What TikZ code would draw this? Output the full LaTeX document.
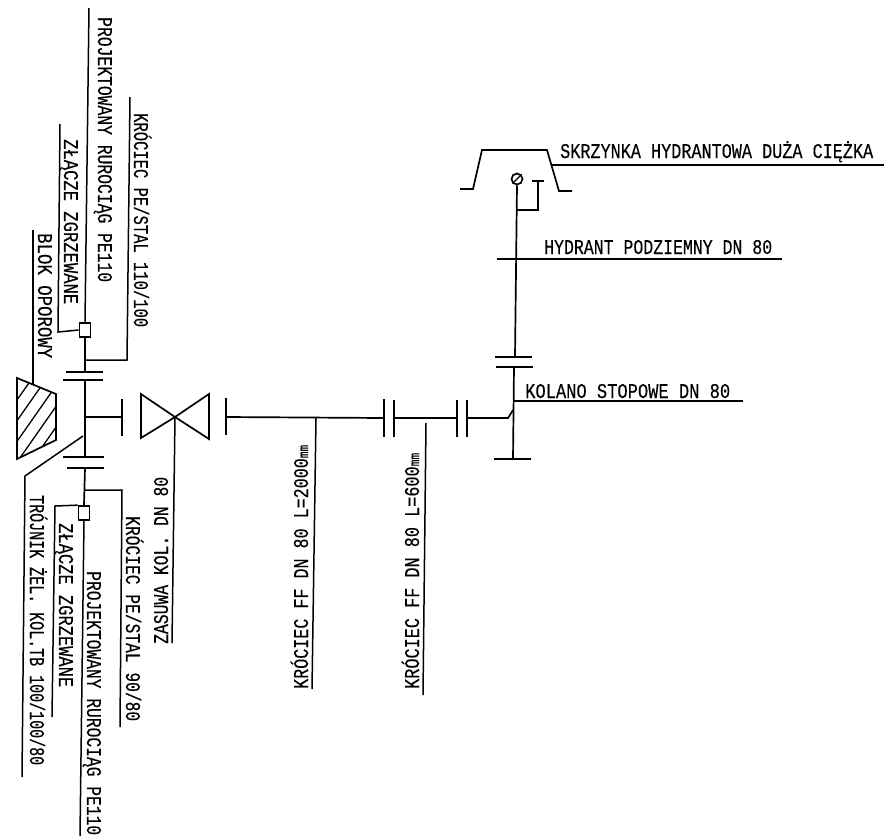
\documentclass[tikz,border=0pt]{standalone}
\usepackage{fontspec}
\setmainfont{Liberation Mono}[FakeBold=0.3]
\newcommand{\lbl}[2]{\resizebox{#1pt}{\height}{#2}}
\tikzset{
  pipe/.style={line width=1.7pt},
  lead/.style={line width=1.5pt},
  txt/.style={inner sep=0pt,font=\fontsize{21}{21}\selectfont},
  txtdown/.style={txt,rotate=-90,anchor=base west},
  txtup/.style={txt,rotate=90,anchor=base west},
  txtright/.style={txt,anchor=base west},
  fitting/.style={draw,pipe,fill=white,inner sep=0pt,minimum width=11pt,minimum height=14pt}
}
\begin{document}
\begin{tikzpicture}[x=1pt,y=-1pt]
\useasboundingbox (0,0) rectangle (884,836);
% fittings
\node[fitting] (joinA) at (85,330) {};
\node[fitting] (joinB) at (84,513) {};
\node[draw,pipe,circle,inner sep=0pt,minimum size=11pt] (head) at (517,179) {};
\draw[line width=1.2pt] (head.south west) -- (head.north east);
% points on the pipes
\coordinate (topA) at (89,8);
\coordinate (botB) at (80,836);
\coordinate (teeA) at (85,360);
\coordinate (flA) at (85,372);
\coordinate (flB) at (85,380);
\coordinate (teeC) at (85,417);
\coordinate (flC) at (85,457);
\coordinate (flD) at (85,468);
\coordinate (teeE) at (85,490);
\coordinate (barL) at (122,417);
\coordinate (mid) at (175,417);
\coordinate (barR) at (226,417);
\coordinate (fitA) at (384,418);
\coordinate (fitB) at (394,418);
\coordinate (fitC) at (457,418);
\coordinate (fitD) at (467,418);
\coordinate (elbowA) at (508,418);
\coordinate (elbowB) at (513,410);
\coordinate (upA) at (514,367);
\coordinate (upB) at (515,357);
\coordinate (foot) at (513,459);
\coordinate (teeH) at (516,210);
% main pipe
\draw[lead] (topA) -- (joinA.north);
\draw[pipe] (joinA.south) -- (flA);
\draw[pipe] (flB) -- (flC);
\draw[pipe] (flD) -- (joinB.north);
\draw[lead] (joinB.south) -- (botB);
\draw[pipe] (teeC) -- (barL);
\draw[pipe] (barR) -- (fitA);
\draw[pipe] (fitB) -- (fitC);
\draw[pipe] (fitD) -- (elbowA) -- (elbowB);
\draw[pipe] (upA) -- (foot);
\draw[pipe] (upB) -- (head.south);
\draw[pipe] (teeH) -- (538,210) -- (538,181);
% flanges
\foreach \y/\a/\b in {372/66/103,380/63/103,457/63/104,468/67/104,357/495/532,367/496/533,459/494/531,181/532/544}
\draw[pipe] (\a,\y) -- (\b,\y);
\foreach \x/\a/\b in {122/399/436,226/398/435,384/399/437,394/400/437,457/400/437,467/400/437}
\draw[pipe] (\x,\a) -- (\x,\b);
% valve
\draw[pipe] (mid) -- (141,394) -- (141,438) -- (mid) -- (209,394) -- (209,439) -- cycle;
% block
\begin{scope}
\clip (17,378) -- (56,394) -- (56,440) -- (17,459) -- cycle;
\foreach \x in {0,1,...,4}
\draw[line width=1.3pt] (\x*14.5-32,470) -- (\x*14.5+38,370);
\end{scope}
\draw[pipe] (17,378) -- (56,394) -- (56,440) -- (17,459) -- cycle;
% hydrant box
\draw[pipe] (460,189) -- (473,189) -- (482,150) -- (547,150) -- (559,191) -- (572,191);
% leaders
\draw[lead] (33,230) -- (33,385);
\draw[lead] (60,124) -- (58,332) -- (joinA.west);
\draw[lead] (130,97) -- (127,360) -- (teeA);
\draw[lead] (83,436) -- (25,476) -- (22,777);
\draw[lead] (joinB.north west) -- (55,506) -- (52,717);
\draw[lead] (teeE) -- (122,490) -- (120,727);
\draw[lead] (mid) -- (172,643);
\draw[lead] (316,418) -- (312,689);
\draw[lead] (426,423) -- (423,695);
\draw[lead] (552,165) -- (884,165);
\draw[lead] (497,259) -- (782,259);
\draw[lead] (514,401) -- (743,401);
% labels
\node[txtdown] (lbPipeA) at (98,17) {\lbl{265}{PROJEKTOWANY RUROCIĄG PE110}};
\node[txtdown] (lbStubA) at (134,113) {\lbl{214}{KRÓCIEC PE/STAL 110/100}};
\node[txtdown] (lbJoinA) at (64,139) {\lbl{165}{ZŁĄCZE ZGRZEWANE}};
\node[txtdown] (lbBlock) at (38,233) {\lbl{125}{BLOK OPOROWY}};
\node[txtdown] (lbTee) at (30,495) {\lbl{270}{TRÓJNIK ŻEL. KOL.TB 100/100/80}};
\node[txtdown] (lbJoinB) at (59,523) {\lbl{164}{ZŁĄCZE ZGRZEWANE}};
\node[txtdown] (lbStubB) at (126,516) {\lbl{205}{KRÓCIEC PE/STAL 90/80}};
\node[txtdown] (lbPipeB) at (87,571) {\lbl{264}{PROJEKTOWANY RUROCIĄG PE110}};
\node[txtup] (lbValve) at (168,644) {\lbl{167}{ZASUWA KOL. DN 80}};
\node[txtup] (lbLongA) at (308,689) {\lbl{244}{KRÓCIEC FF DN 80 L=2000{\fontsize{14}{14}\selectfont mm}}};
\node[txtup] (lbLongB) at (419,689) {\lbl{236}{KRÓCIEC FF DN 80 L=600{\fontsize{14}{14}\selectfont mm}}};
\node[txtright] (lbBox) at (560,158) {\lbl{313}{SKRZYNKA HYDRANTOWA DUŻA CIĘŻKA}};
\node[txtright] (lbHydr) at (544,254) {\lbl{228}{HYDRANT PODZIEMNY DN 80}};
\node[txtright] (lbElbow) at (525,398) {\lbl{205}{KOLANO STOPOWE DN 80}};
\end{tikzpicture}
\end{document}
